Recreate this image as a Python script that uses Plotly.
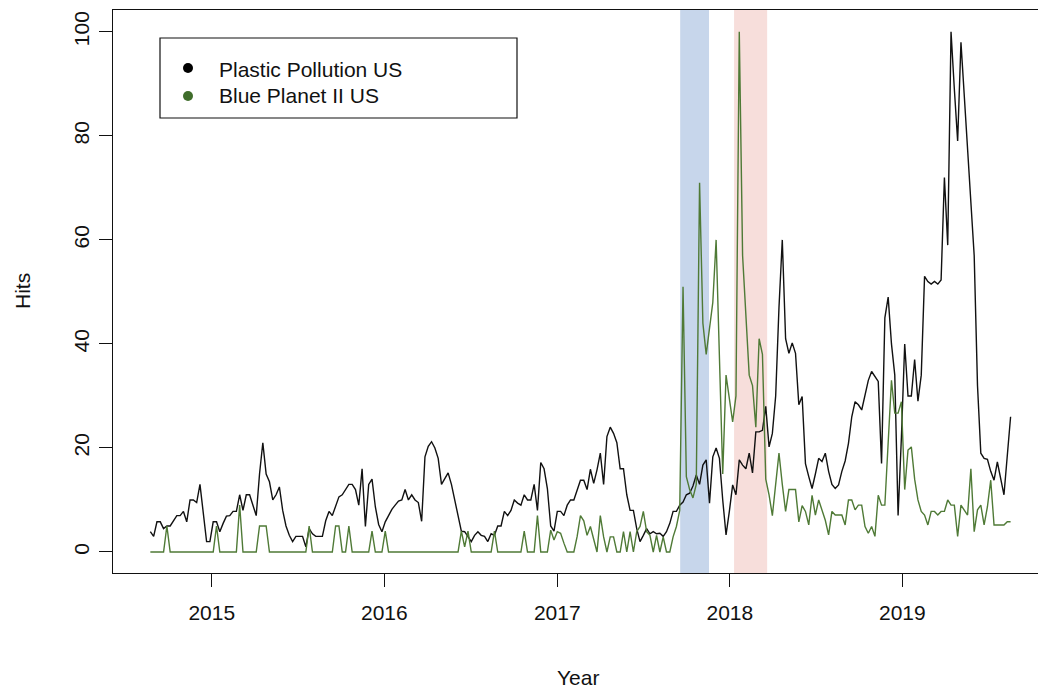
import pandas as pd
import plotly.graph_objects as go

# ---- data (weekly Google-Trends style hits) ----
start_week = "2014-08-24"
n_weeks = 261

plastic_pollution_us = [
    3.9, 3, 5.8, 5.8, 4.5, 5, 5, 6, 7, 7,
    7.8, 5.8, 10, 10, 9.5, 13, 7, 2, 2, 5.8,
    5.8, 3.9, 5.5, 6.9, 7, 7.8, 7.8, 11, 8, 11,
    11, 9, 7, 15, 21, 15, 13.5, 10, 11, 12.5,
    8, 5, 3.2, 2, 3, 3, 3, 1, 4.5, 3.5,
    3, 3, 3, 6, 7.8, 7, 9, 10.6, 11, 12,
    13, 13, 12, 9, 16, 4.9, 13, 14, 8.7, 5.3,
    3.9, 5.8, 7, 8.2, 9, 9.8, 10, 12, 10, 11,
    10, 9.5, 5.9, 18.3, 20.3, 21.2, 20, 18, 13, 14.2,
    15.2, 13, 10, 7, 4, 3.9, 3, 2, 3.2, 3.9,
    3.2, 3, 2, 3.5, 3.2, 5, 5, 7.8, 7, 8,
    10, 9.4, 9, 11, 10, 10, 13, 8, 17.2, 16,
    12.2, 5, 4, 7.8, 7.8, 7, 9, 10, 10, 12,
    13.8, 13.8, 12, 15.9, 13.2, 15.8, 19, 13, 22.2, 24,
    22.8, 21, 16, 16, 11, 8, 8, 4.5, 2, 3.2,
    4.5, 3.5, 3.9, 3.5, 3.6, 3, 3.9, 5.5, 7.8, 7.8,
    9, 9.6, 11, 11.3, 12.7, 14.8, 13, 16.7, 17.7, 9.4,
    18.3, 20, 18, 10, 3.3, 7.8, 12.9, 11, 17.7, 16.7,
    16, 19, 15.2, 23.1, 23.1, 23.4, 28, 20.2, 22.8, 30,
    47, 60, 41, 38.2, 40.2, 38.2, 28.3, 29.9, 17, 14.5,
    12.2, 15, 18, 17.4, 19, 15.5, 13, 12.2, 12.9, 15.5,
    17.5, 20.9, 26, 28.9, 28.3, 27.3, 30.5, 33, 34.7, 33.7,
    32.8, 17, 45, 49, 40, 34, 7, 22, 40, 30,
    30, 37, 29, 34, 53, 52, 51.5, 52, 51.5, 52.3,
    72, 59, 100, 89, 79, 98, 88, 78, 67, 57,
    32, 19, 18, 17.8, 15.5, 13.8, 17.3, 14, 11, 18.5,
    26,
]

blue_planet_ii_us = [
    0, 0, 0, 0, 0, 5, 0, 0, 0, 0,
    0, 0, 0, 0, 0, 0, 0, 0, 0, 0,
    5, 0, 0, 0, 0, 0, 0, 9, 0, 0,
    0, 0, 0, 5, 5, 5, 0, 0, 0, 0,
    0, 0, 0, 0, 0, 0, 0, 0, 5, 0,
    0, 0, 0, 0, 0, 0, 5, 5, 0, 0,
    5, 0, 0, 0, 0, 0, 0, 4, 0, 0,
    0, 4, 0, 0, 0, 0, 0, 0, 0, 0,
    0, 0, 0, 0, 0, 0, 0, 0, 0, 0,
    0, 0, 0, 0, 4, 1, 4, 0, 0, 0,
    0, 0, 0, 0, 4, 0, 0, 0, 0, 0,
    0, 0, 0, 4, 0, 0, 0, 7, 0, 0,
    0, 4.2, 2.3, 3.9, 3.6, 1.7, 0, 0, 0, 3,
    7, 6, 3.2, 4.9, 2.6, 0, 7, 2.9, 0, 2.9,
    2.9, 0, 0, 3.9, 0, 3.9, 0, 3.9, 4.9, 7.8,
    3.9, 3.2, 0, 3.2, 0, 2.9, 0, 0, 2.9, 4.9,
    8, 51, 14.5, 12, 10.4, 13, 71, 44, 38, 43,
    48, 60, 35, 15, 34, 29, 25, 30, 100, 57,
    45, 34, 32, 24, 41, 38, 14, 11, 7, 13,
    19, 13, 7.8, 12, 12, 12, 5.8, 8.9, 7.8, 5.2,
    10.9, 7.1, 10, 7.8, 6.1, 3.3, 7.8, 7.1, 7.1, 7.1,
    5.2, 10, 10, 8.1, 9, 9, 4.9, 3.6, 4.9, 3,
    10.9, 9, 9, 20, 33, 26.7, 26.7, 28.9, 12, 19.6,
    20.2, 14, 10, 7.8, 7.1, 5.2, 7.8, 7.8, 7.1, 7.8,
    7.8, 10, 9, 9, 3, 9, 8.1, 7.1, 16, 3.9,
    8.1, 9, 5.2, 8.7, 13.8, 5.2, 5.2, 5.2, 5.2, 5.8,
    5.8,
]

year_ticks = ["2015-01-01", "2016-01-01", "2017-01-01", "2018-01-01", "2019-01-01"]
year_labels = ["2015", "2016", "2017", "2018", "2019"]
hits_ticks = [0, 20, 40, 60, 80, 100]

blue_band = ["2017-09-18", "2017-11-18"]
pink_band = ["2018-01-10", "2018-03-21"]

series_names = ["Plastic Pollution US", "Blue Planet II US"]

weeks = pd.date_range(start_week, periods=n_weeks, freq="7D")

FONT = "Liberation Sans, Arial, Helvetica, sans-serif"
BLACK = "#111111"
GREEN = "#4f7a36"

fig = go.Figure()

fig.add_trace(go.Scatter(x=weeks, y=plastic_pollution_us, mode="lines",
                         line=dict(color=BLACK, width=1.4), name=series_names[0],
                         showlegend=False))
fig.add_trace(go.Scatter(x=weeks, y=blue_planet_ii_us, mode="lines",
                         line=dict(color=GREEN, width=1.4), name=series_names[1],
                         showlegend=False))

# shaded periods
fig.add_shape(type="rect", xref="x", yref="y domain", x0=blue_band[0], x1=blue_band[1],
              y0=0, y1=1, fillcolor="#c7d6eb", line=dict(width=0), layer="below")
fig.add_shape(type="rect", xref="x", yref="y domain", x0=pink_band[0], x1=pink_band[1],
              y0=0, y1=1, fillcolor="#f7dedb", line=dict(width=0), layer="below")

# legend box (manual, R-style)
L, R_, T, B = 113, 1038, 10, 573
def px(xp):
    return (xp - L) / (R_ - L)
def py(yp):
    return (B - yp) / (B - T)

fig.add_shape(type="rect", xref="paper", yref="paper", x0=px(160), x1=px(517),
              y0=py(118), y1=py(38), line=dict(color=BLACK, width=1.2),
              fillcolor="white")
for yc, col in [(68, "#000000"), (96, "#3f6d2b")]:
    fig.add_shape(type="circle", xref="paper", yref="paper",
                  xsizemode="pixel", ysizemode="pixel",
                  xanchor=px(188), yanchor=py(yc), x0=-5, x1=5, y0=-5, y1=5,
                  fillcolor=col, line=dict(width=0))
for yc, txt in [(69, series_names[0]), (96, series_names[1])]:
    fig.add_annotation(xref="paper", yref="paper", x=px(217), y=py(yc), text=txt,
                       showarrow=False, xanchor="left", yanchor="middle",
                       font=dict(family=FONT, size=21, color=BLACK))

# axis titles
fig.add_annotation(xref="paper", yref="paper", x=px(578), y=py(677), text="Year",
                   showarrow=False, xanchor="center", yanchor="middle",
                   font=dict(family=FONT, size=21, color=BLACK))
fig.add_annotation(xref="paper", yref="paper", x=px(22), y=py(291), text="Hits",
                   showarrow=False, xanchor="center", yanchor="middle", textangle=-90,
                   font=dict(family=FONT, size=21, color=BLACK))

fig.update_layout(
    width=1038, height=689,
    margin=dict(l=113, r=0, t=10, b=116),
    paper_bgcolor="white", plot_bgcolor="white",
    font=dict(family=FONT, size=21, color=BLACK),
    xaxis=dict(type="date", range=["2014-06-06", "2019-10-15"],
               tickvals=year_ticks, ticktext=year_labels,
               ticks="outside", ticklen=13, tickwidth=1, tickcolor=BLACK,
               showline=True, linecolor=BLACK, linewidth=1.2, mirror=True,
               showgrid=False, zeroline=False, ticklabelstandoff=8,
               tickfont=dict(family=FONT, size=21, color=BLACK)),
    yaxis=dict(range=[-4.04, 104.2], tickvals=hits_ticks,
               ticktext=[str(v) for v in hits_ticks],
               ticks="outside", ticklen=13, tickwidth=1, tickcolor=BLACK,
               tickangle=-90, showline=True, linecolor=BLACK, linewidth=1.2,
               mirror=False, showgrid=False, zeroline=False, ticklabelstandoff=2,
               tickfont=dict(family=FONT, size=21, color=BLACK)),
)

fig.write_html(
    "out.html",
    config={"displayModeBar": False},
    post_script="document.body.style.margin='0';document.body.style.overflow='hidden';",
)
